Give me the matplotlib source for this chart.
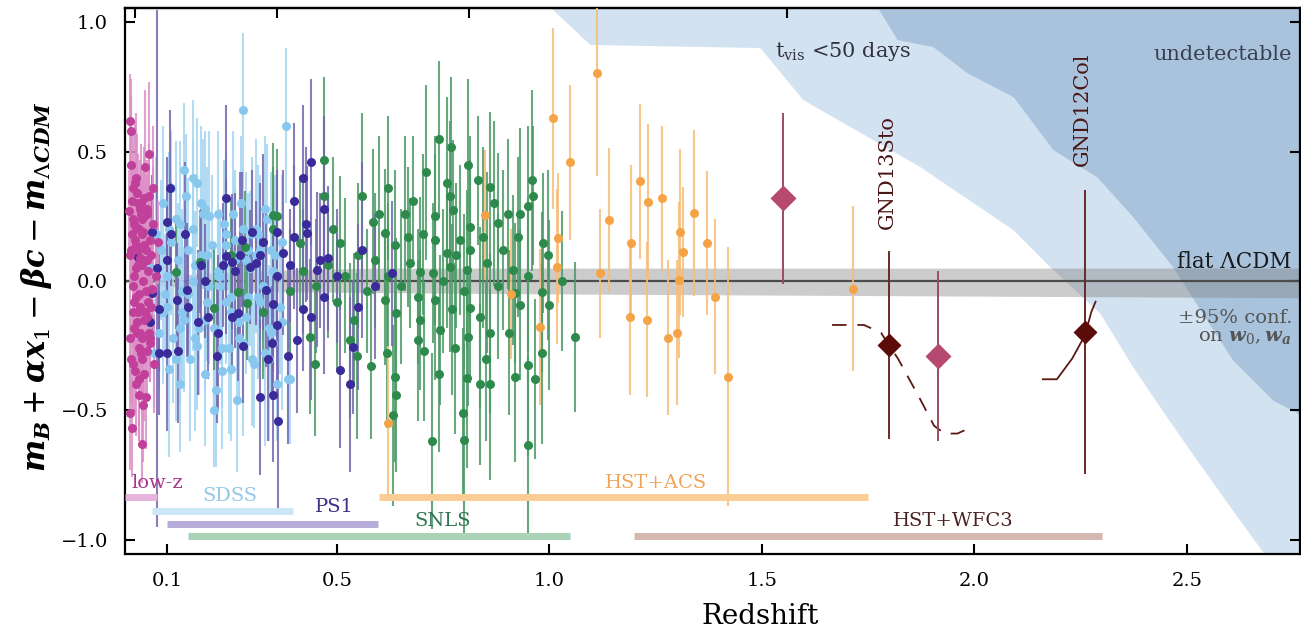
import numpy as np
import matplotlib.pyplot as plt

plt.rcParams['font.family'] = 'DejaVu Serif'
plt.rcParams['mathtext.fontset'] = 'custom'
plt.rcParams['mathtext.rm'] = 'DejaVu Serif'
plt.rcParams['mathtext.it'] = 'DejaVu Serif:italic:bold'
plt.rcParams['mathtext.bf'] = 'DejaVu Serif:bold'

# low-z sample
lowz_z = [0.012, 0.015, 0.018, 0.020, 0.022, 0.024, 0.026, 0.028, 0.030, 0.032,
          0.034, 0.036, 0.038, 0.040, 0.042, 0.044, 0.046, 0.048, 0.050, 0.052,
          0.055, 0.058, 0.060, 0.063, 0.066, 0.070, 0.074, 0.078, 0.013, 0.016,
          0.019, 0.021, 0.023, 0.025, 0.027, 0.029, 0.031, 0.033, 0.035, 0.037,
          0.039, 0.041, 0.043, 0.045, 0.047, 0.050, 0.053, 0.056, 0.061, 0.068,
          0.014, 0.017, 0.024, 0.028, 0.034, 0.038, 0.043, 0.049, 0.054, 0.065,
          0.011, 0.013, 0.016, 0.019, 0.021, 0.023, 0.026, 0.029, 0.032, 0.035,
          0.037, 0.040, 0.042, 0.044, 0.047, 0.051, 0.053, 0.057, 0.059, 0.062,
          0.015, 0.018, 0.022, 0.027, 0.031, 0.036, 0.041, 0.046, 0.052, 0.058]
lowz_mu = [0.62, 0.58, 0.31, -0.12, 0.22, -0.35, 0.05, 0.40, -0.20, 0.12,
           -0.05, 0.28, -0.28, 0.18, -0.63, 0.08, -0.15, 0.44, -0.45, 0.26,
           -0.08, 0.49, -0.22, 0.10, 0.36, -0.32, 0.02, 0.15, -0.51, 0.45,
           -0.02, 0.24, -0.18, 0.16, -0.40, 0.34, 0.06, -0.26, 0.20, -0.10,
           0.30, -0.30, 0.00, 0.14, -0.36, 0.12, -0.14, 0.04, -0.24, 0.22,
           0.10, -0.57, 0.38, -0.06, -0.44, 0.26, 0.19, -0.12, 0.08, -0.03,
           0.27, -0.22, 0.12, -0.32, 0.36, -0.08, 0.21, -0.16, 0.30, -0.38,
           0.09, 0.24, -0.22, -0.48, 0.32, -0.04, 0.28, -0.20, 0.16, -0.10,
           -0.30, 0.18, 0.02, 0.14, -0.12, -0.20, 0.06, 0.25, -0.27, 0.33]
lowz_err = [0.18, 0.20, 0.15, 0.14, 0.22, 0.16, 0.13, 0.25, 0.15, 0.17,
            0.14, 0.19, 0.16, 0.21, 0.15, 0.13, 0.18, 0.30, 0.20, 0.15,
            0.14, 0.28, 0.17, 0.13, 0.24, 0.19, 0.12, 0.16, 0.22, 0.26,
            0.15, 0.18, 0.14, 0.17, 0.20, 0.23, 0.13, 0.16, 0.19, 0.15,
            0.14, 0.21, 0.16, 0.12, 0.18, 0.25, 0.17, 0.20, 0.15, 0.22,
            0.13, 0.19, 0.24, 0.16, 0.18, 0.27, 0.14, 0.17, 0.21, 0.15,
            0.16, 0.20, 0.14, 0.18, 0.22, 0.15, 0.17, 0.20, 0.19, 0.24,
            0.15, 0.18, 0.16, 0.22, 0.20, 0.14, 0.19, 0.17, 0.21, 0.15,
            0.18, 0.16, 0.14, 0.20, 0.17, 0.19, 0.15, 0.22, 0.18, 0.20]

# SDSS
sdss_z = [0.06, 0.08, 0.09, 0.10, 0.11, 0.12, 0.13, 0.14, 0.15, 0.16,
          0.17, 0.18, 0.19, 0.20, 0.21, 0.22, 0.23, 0.24, 0.25, 0.26,
          0.27, 0.28, 0.29, 0.30, 0.31, 0.32, 0.33, 0.34, 0.35, 0.36,
          0.37, 0.38, 0.39, 0.07, 0.085, 0.095, 0.105, 0.115, 0.125, 0.135,
          0.145, 0.155, 0.165, 0.175, 0.185, 0.195, 0.205, 0.215, 0.225, 0.235,
          0.245, 0.255, 0.265, 0.275, 0.285, 0.295, 0.305, 0.315, 0.325, 0.335,
          0.345, 0.355, 0.365, 0.11, 0.14, 0.17, 0.20, 0.23, 0.26, 0.29,
          0.32, 0.35, 0.13, 0.19, 0.22, 0.25, 0.28, 0.16, 0.24, 0.385,
          0.075, 0.09, 0.105, 0.12, 0.135, 0.15, 0.165, 0.18, 0.195, 0.21,
          0.225, 0.24, 0.255, 0.27, 0.285, 0.30, 0.315, 0.33, 0.345, 0.36,
          0.10, 0.13, 0.16, 0.19, 0.22, 0.25, 0.28, 0.31, 0.34, 0.37]
sdss_mu = [0.05, -0.20, 0.30, -0.10, 0.15, -0.30, 0.22, 0.43, -0.05, 0.40,
           -0.25, 0.10, -0.15, 0.25, -0.50, 0.02, -0.35, 0.18, -0.12, 0.08,
           -0.22, 0.66, 0.12, -0.30, 0.20, -0.08, 0.28, -0.18, 0.04, -0.40,
           0.15, 0.60, -0.38, -0.28, 0.12, -0.05, 0.20, -0.22, 0.08, -0.12,
           0.33, -0.30, 0.06, -0.18, 0.26, -0.08, 0.14, -0.42, 0.02, 0.22,
           -0.26, 0.10, -0.46, 0.30, -0.14, 0.05, -0.32, 0.18, -0.02, 0.24,
           -0.20, 0.10, -0.10, 0.36, -0.15, 0.38, -0.02, -0.26, 0.16, -0.06,
           0.12, -0.24, -0.40, 0.28, 0.04, -0.34, 0.20, 0.00, -0.08, -0.38,
           0.18, -0.12, -0.34, 0.24, -0.04, 0.12, -0.22, 0.30, 0.10, -0.18,
           -0.02, 0.14, 0.26, -0.16, 0.08, 0.18, -0.06, -0.28, 0.12, 0.02,
           0.02, -0.18, 0.20, -0.36, 0.26, -0.06, -0.24, 0.10, -0.30, -0.16]
sdss_err = [0.25, 0.22, 0.30, 0.20, 0.28, 0.24, 0.32, 0.26, 0.22, 0.30,
            0.25, 0.20, 0.27, 0.33, 0.22, 0.24, 0.30, 0.26, 0.21, 0.28,
            0.25, 0.30, 0.22, 0.26, 0.35, 0.20, 0.28, 0.24, 0.31, 0.22,
            0.26, 0.30, 0.25, 0.21, 0.27, 0.23, 0.30, 0.25, 0.22, 0.28,
            0.24, 0.32, 0.21, 0.26, 0.29, 0.23, 0.27, 0.30, 0.22, 0.25,
            0.33, 0.24, 0.28, 0.26, 0.22, 0.30, 0.25, 0.27, 0.21, 0.29,
            0.24, 0.31, 0.26, 0.22, 0.28, 0.25, 0.30, 0.23, 0.27, 0.24,
            0.29, 0.22, 0.26, 0.30, 0.25, 0.28, 0.23, 0.27, 0.24, 0.22,
            0.30, 0.28, 0.34, 0.30, 0.32, 0.28, 0.36, 0.30, 0.34, 0.32,
            0.30, 0.36, 0.32, 0.30, 0.34, 0.30, 0.32, 0.36, 0.30, 0.34,
            0.32, 0.30, 0.34, 0.28, 0.32, 0.30, 0.36, 0.30, 0.32, 0.34]

# Pan-STARRS1
ps1_z = [0.065, 0.10, 0.11, 0.142, 0.10, 0.032, 0.065, 0.08, 0.123, 0.146,
         0.15, 0.173, 0.197, 0.22, 0.252, 0.268, 0.08, 0.10, 0.125, 0.217,
         0.28, 0.24, 0.232, 0.252, 0.272, 0.295, 0.32, 0.326, 0.31, 0.334,
         0.35, 0.358, 0.347, 0.338, 0.32, 0.35, 0.385, 0.405, 0.42, 0.428,
         0.43, 0.44, 0.479, 0.507, 0.53, 0.538, 0.107, 0.24, 0.44, 0.42,
         0.36, 0.26, 0.276, 0.373, 0.39, 0.40, 0.452, 0.46, 0.30, 0.19,
         0.59, 0.56, 0.50, 0.47, 0.36, 0.18, 0.06, 0.40, 0.47, 0.55,
         0.63, 0.077, 0.362]
ps1_mu = [0.19, 0.23, 0.18, 0.18, 0.08, 0.093, -0.047, -0.11, -0.074, -0.035,
          -0.10, -0.16, -0.14, -0.20, -0.14, -0.125, -0.28, -0.28, -0.27, -0.29,
          -0.25, 0.095, 0.062, 0.075, 0.10, 0.055, 0.10, 0.15, 0.07, -0.034,
          -0.087, -0.17, -0.24, -0.30, -0.45, -0.44, -0.29, -0.23, -0.11, 0.22,
          0.185, -0.14, 0.088, -0.345, -0.40, -0.255, 0.36, 0.32, 0.46, 0.40,
          0.19, 0.04, 0.16, 0.11, 0.06, 0.17, 0.043, 0.08, 0.19, 0.00,
          -0.02, 0.12, 0.02, -0.06, 0.02, 0.06, -0.16, 0.31, 0.28, -0.10,
          0.03, 0.05, -0.54]
ps1_err = [0.22, 0.25, 0.20, 0.28, 0.22, 0.18, 0.20, 0.24, 0.22, 0.26,
           0.20, 0.28, 0.24, 0.30, 0.22, 0.26, 0.24, 0.30, 0.28, 0.26,
           0.22, 0.30, 0.24, 0.26, 0.32, 0.22, 0.28, 0.34, 0.24, 0.30,
           0.26, 0.28, 0.22, 0.32, 0.30, 0.26, 0.34, 0.28, 0.24, 0.30,
           0.26, 0.32, 0.28, 0.30, 0.34, 0.26, 0.30, 0.36, 0.32, 0.28,
           0.24, 0.30, 0.26, 0.32, 0.22, 0.28, 0.30, 0.26, 0.24, 0.22,
           0.28, 0.34, 0.26, 0.30, 0.24, 0.22, 0.20, 0.30, 0.36, 0.32,
           0.28, 1.00, 0.36]

# SNLS
snls_z = [0.74, 0.768, 0.808, 0.832, 0.86, 0.959, 0.962, 0.95, 0.68, 0.758,
          0.766, 0.773, 0.73, 0.813, 0.902, 0.93, 0.879, 0.613, 0.636, 0.703,
          0.667, 0.73, 0.789, 0.843, 0.926, 0.985, 0.996, 0.758, 0.813, 0.89,
          0.672, 0.695, 0.726, 0.766, 0.806, 0.853, 0.914, 1.03, 0.613, 0.64,
          0.695, 0.73, 0.77, 0.813, 0.836, 0.86, 0.808, 0.778, 0.742, 0.69,
          0.705, 0.617, 0.636, 0.806, 0.836, 0.86, 0.919, 0.95, 0.965, 0.93,
          0.919, 0.982, 1.0, 0.982, 1.06, 0.632, 0.797, 0.80, 0.95, 0.178,
          0.12, 0.21, 0.268, 0.288, 0.326, 0.35, 0.35, 0.413, 0.436, 0.448,
          0.507, 0.53, 0.546, 0.585, 0.60, 0.58, 0.47, 0.47, 0.358, 0.283,
          0.42, 0.45, 0.48, 0.50, 0.52, 0.55, 0.57, 0.59, 0.62, 0.65,
          0.54, 0.49, 0.56, 0.66, 0.71, 0.88, 0.95, 0.85, 0.74, 0.39,
          0.25, 0.64, 0.87, 0.78, 0.69, 0.724, 0.75, 0.80, 0.905, 0.62]
snls_mu = [0.55, 0.52, 0.45, 0.39, 0.365, 0.39, 0.33, 0.29, 0.31, 0.38,
           0.33, 0.275, 0.25, 0.21, 0.26, 0.26, 0.225, 0.185, 0.14, 0.18,
           0.17, 0.16, 0.16, 0.17, 0.17, 0.147, 0.10, 0.108, 0.12, 0.12,
           0.07, 0.035, 0.03, 0.055, 0.043, 0.07, 0.043, 0.0, -0.074, -0.125,
           -0.15, -0.074, -0.11, -0.105, -0.14, -0.20, -0.215, -0.26, -0.19, -0.23,
           -0.27, -0.28, -0.37, -0.375, -0.40, -0.40, -0.37, -0.326, -0.38, -0.093,
           -0.047, -0.043, -0.093, -0.28, -0.215, -0.52, -0.51, -0.615, -0.635, 0.075,
           0.035, -0.105, -0.043, -0.085, -0.12, 0.20, 0.255, 0.147, -0.215, -0.32,
           0.147, -0.23, -0.29, 0.23, 0.26, -0.33, 0.47, 0.33, 0.25, 0.13,
           0.04, -0.02, 0.06, -0.08, 0.02, 0.10, -0.04, 0.08, 0.02, -0.02,
           -0.15, 0.20, 0.33, 0.26, 0.42, -0.02, 0.02, -0.30, -0.36, -0.04,
           0.10, -0.44, 0.30, 0.10, -0.06, -0.62, 0.00, -0.04, -0.20, 0.36]
snls_err = [0.30, 0.27, 0.33, 0.25, 0.29, 0.35, 0.27, 0.31, 0.25, 0.33,
            0.29, 0.27, 0.31, 0.35, 0.29, 0.33, 0.27, 0.25, 0.29, 0.31,
            0.27, 0.33, 0.29, 0.35, 0.31, 0.27, 0.33, 0.29, 0.35, 0.31,
            0.25, 0.29, 0.27, 0.33, 0.31, 0.35, 0.29, 0.27, 0.25, 0.29,
            0.27, 0.31, 0.33, 0.29, 0.35, 0.31, 0.27, 0.33, 0.29, 0.31,
            0.27, 0.29, 0.33, 0.35, 0.31, 0.37, 0.33, 0.35, 0.31, 0.29,
            0.27, 0.31, 0.33, 0.35, 0.29, 0.35, 0.33, 0.37, 0.35, 0.20,
            0.22, 0.24, 0.20, 0.22, 0.26, 0.24, 0.28, 0.26, 0.30, 0.28,
            0.26, 0.30, 0.32, 0.28, 0.30, 0.28, 0.32, 0.30, 0.26, 0.22,
            0.24, 0.26, 0.28, 0.26, 0.30, 0.28, 0.24, 0.26, 0.28, 0.30,
            0.26, 0.28, 0.32, 0.30, 0.34, 0.28, 0.30, 0.32, 0.30, 0.24,
            0.22, 0.30, 0.32, 0.28, 0.26, 0.34, 0.28, 0.30, 0.32, 0.28]

# HST + ACS
hst_z = [1.112, 1.009, 1.048, 1.213, 1.232, 1.265, 1.14, 1.34, 1.192, 1.307,
         1.315, 1.37, 1.02, 1.017, 1.12, 1.305, 1.39, 0.848, 0.977, 1.189,
         1.229, 1.30, 0.62, 1.42, 1.28, 0.91, 1.714]
hst_mu = [0.805, 0.63, 0.46, 0.385, 0.306, 0.32, 0.236, 0.263, 0.147, 0.19,
          0.112, 0.147, 0.166, 0.055, 0.03, 0.004, -0.06, 0.255, -0.178, -0.14,
          -0.15, -0.20, -0.55, -0.37, -0.22, -0.05, -0.03]
hst_err = [0.40, 0.35, 0.30, 0.30, 0.30, 0.28, 0.28, 0.32, 0.30, 0.32,
           0.25, 0.28, 0.25, 0.30, 0.25, 0.30, 0.30, 0.25, 0.30, 0.30,
           0.30, 0.28, 0.30, 0.50, 0.30, 0.25, 0.32]

# the z~2 SNe
pink_z = [1.55, 1.914]
pink_mu = [0.32, -0.29]
pink_err = [0.33, 0.33]
gnd_z = [1.80, 2.26]
gnd_mu = [-0.248, -0.198]
gnd_err = [0.365, 0.55]

# model tracks
sto_track_z = [1.665, 1.74, 1.78, 1.82, 1.87, 1.905, 1.93, 1.96, 1.98]
sto_track_mu = [-0.17, -0.17, -0.20, -0.30, -0.45, -0.56, -0.59, -0.59, -0.575]
col_track_z = [2.161, 2.194, 2.23, 2.26, 2.275, 2.285]
col_track_mu = [-0.38, -0.38, -0.30, -0.21, -0.12, -0.08]

# visibility limits
tvis_z = [1.001, 1.095, 1.495, 1.596, 1.872, 2.091, 2.178, 2.295, 2.373, 2.453, 2.507, 2.608, 2.684]
tvis_mu = [1.06, 0.915, 0.903, 0.702, 0.442, 0.198, 0.054, -0.124, -0.333, -0.527, -0.655, -0.888, -1.06]
undet_z = [1.771, 1.818, 1.902, 1.982, 2.091, 2.185, 2.288, 2.373, 2.467, 2.531, 2.608, 2.702, 2.77]
undet_mu = [1.06, 0.934, 0.907, 0.806, 0.713, 0.508, 0.403, 0.248, 0.054, -0.112, -0.306, -0.461, -0.519]

# w0-wa confidence band around flat LCDM
band_z = [0.0, 0.1, 0.3, 0.6, 1.0, 2.8]
band_hi = [0.005, 0.02, 0.04, 0.05, 0.05, 0.05]
band_lo = [-0.005, -0.02, -0.04, -0.045, -0.05, -0.065]

# survey ranges
survey_names = ['low-z', 'SDSS', 'PS1', 'SNLS', 'HST+ACS', 'HST+WFC3']
survey_zmin = [0.0, 0.065, 0.10, 0.15, 0.60, 1.20]
survey_zmax = [0.076, 0.396, 0.596, 1.048, 1.75, 2.30]
survey_bar_y = [-0.837, -0.888, -0.938, -0.988, -0.837, -0.988]
survey_text_z = [0.077, 0.248, 0.495, 0.749, 1.25, 1.95]
survey_text_y = [-0.783, -0.83, -0.876, -0.93, -0.782, -0.93]
survey_text_col = ['#a8378a', '#92c8ea', '#3b2f86', '#2f7650', '#f2a358', '#4a2222']
survey_bar_col = ['#e6b3dc', '#cbe7f7', '#b5acd9', '#a9d2b6', '#f9cd95', '#d4b8b0']

xticks = [0.1, 0.5, 1.0, 1.5, 2.0, 2.5]
xtick_labels = ['0.1', '0.5', '1.0', '1.5', '2.0', '2.5']
yticks = [-1.0, -0.5, 0.0, 0.5, 1.0]
ytick_labels = ['\u22121.0', '\u22120.5', '0.0', '0.5', '1.0']
top_ticks = [0.025, 0.36, 0.81, 1.56, 2.05]

fig = plt.figure(figsize=(13.01, 6.30), dpi=100)
ax = fig.add_axes([0.0957, 0.1206, 0.9035, 0.8667])
ax.set_xlim(0, 2.766)
ax.set_ylim(-1.056, 1.056)

ax.fill_betweenx(tvis_mu, tvis_z, 2.8, color='#d3e2f1', lw=0, zorder=0)
ax.fill_betweenx(undet_mu, undet_z, 2.8, color='#a9c3dd', lw=0, zorder=0.5)
ax.fill_between(band_z, band_lo, band_hi, color='#808080', alpha=0.4, lw=0, zorder=1)
ax.axhline(0, color='#4d4d4d', lw=1.6, zorder=2)

surveys = [
    (sdss_z, sdss_mu, sdss_err, '#a6d6f2', '#88c8ee'),
    (snls_z, snls_mu, snls_err, '#4f9a68', '#2e8a4c'),
    (ps1_z, ps1_mu, ps1_err, '#7468b0', '#3a2a9a'),
    (lowz_z, lowz_mu, lowz_err, '#dc8fc6', '#c0409a'),
    (hst_z, hst_mu, hst_err, '#f7bd78', '#f5a347'),
]
for z, mu, err, ecol, mcol in surveys:
    ax.errorbar(z, mu, yerr=err, fmt='none', ecolor=ecol, elinewidth=1.5, alpha=0.85, zorder=3)
for z, mu, err, ecol, mcol in surveys:
    ax.plot(z, mu, 'o', color=mcol, ms=6.5, mec='none', zorder=4)

for i in range(len(survey_names)):
    ax.plot([survey_zmin[i], survey_zmax[i]], [survey_bar_y[i]] * 2, lw=5,
            color=survey_bar_col[i], solid_capstyle='butt', zorder=3)
    ax.text(survey_text_z[i], survey_text_y[i], survey_names[i], color=survey_text_col[i],
            fontsize=14, ha='center', va='center', zorder=5)

ax.plot(sto_track_z, sto_track_mu, color='#5a1a14', lw=1.3, dashes=(8, 6), zorder=4)
ax.plot(col_track_z, col_track_mu, color='#5a1a14', lw=1.3, zorder=4)
ax.errorbar(pink_z, pink_mu, yerr=pink_err, fmt='D', color='#b5496f', ecolor='#9c4a62',
            elinewidth=1.4, ms=13, mec='none', zorder=6)
ax.errorbar(gnd_z, gnd_mu, yerr=gnd_err, fmt='D', color='#5c0c08', ecolor='#6a2a28',
            elinewidth=1.4, ms=12, mec='none', zorder=6)

ax.text(1.794, 0.423, 'GND13Sto', rotation=90, ha='center', va='center',
        fontsize=15, color='#4a1515', zorder=6)
ax.text(2.255, 0.663, 'GND12Col', rotation=90, ha='center', va='center',
        fontsize=15, color='#4a1515', zorder=6)
ax.text(1.53, 0.887, r't$_\mathrm{vis}$ <50 days', ha='left', va='center',
        fontsize=15, color='#333340', zorder=6)
ax.text(2.747, 0.875, 'undetectable', ha='right', va='center', fontsize=15,
        color='#3a4050', zorder=6)
ax.text(2.747, 0.074, 'flat \u039bCDM', ha='right', va='center', fontsize=15.5,
        color='#1a1a1a', zorder=6)
ax.text(2.747, -0.143, '\u00b195% conf.', ha='right', va='center', fontsize=14,
        color='#555555', zorder=6)
ax.text(2.747, -0.217, r'on $w_0, w_a$', ha='right', va='center', fontsize=14,
        color='#555555', zorder=6)

ax.set_xticks(xticks)
ax.set_xticklabels(xtick_labels)
ax.set_yticks(yticks)
ax.set_yticklabels(ytick_labels)
ax.tick_params(direction='in', length=7, width=1.5, labelsize=14, right=True)
ax.tick_params(axis='x', pad=13)
ax.tick_params(axis='y', pad=12)
for s in ax.spines.values():
    s.set_linewidth(1.6)
top = ax.secondary_xaxis('top')
top.set_xticks(top_ticks)
top.set_xticklabels([])
top.tick_params(direction='in', length=7, width=1.5)
top.spines['top'].set_linewidth(1.6)

ax.set_xlabel('Redshift', fontsize=20)
ax.xaxis.set_label_coords((760 - 124.5) / 1175.5, -0.09)
ax.set_ylabel(r'$m_B + \alpha x_1 - \beta c - m_{\Lambda CDM}$', fontsize=22)
ax.yaxis.set_label_coords(-0.06, 0.49)

plt.savefig('out.png', dpi=100)
